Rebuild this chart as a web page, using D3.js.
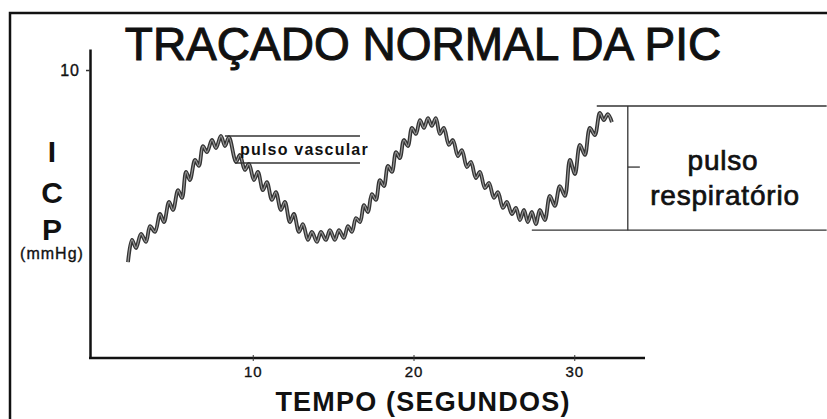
<!DOCTYPE html>
<html>
<head>
<meta charset="utf-8">
<script src="https://cdn.jsdelivr.net/npm/d3@7"></script>
<style>
  body { margin: 0; background: #fff; }
  svg { display: block; font-family: "Liberation Sans", Arial, sans-serif; }
</style>
</head>
<body>
<div id="chart"></div>
<script>
const tempo = [
  2.24, 2.49, 2.74, 3.05, 3.36, 3.61, 3.92, 4.23, 4.48, 4.79, 5.04, 5.35, 5.60, 5.85, 6.09, 6.41, 6.65, 6.90, 7.15, 7.46,
  7.71, 8.02, 8.27, 8.52, 8.96, 9.20, 9.51, 9.76, 10.07, 10.32, 10.63, 10.88, 11.19, 11.44, 11.75, 12.00, 12.31, 12.56, 12.87, 13.12,
  13.43, 13.68, 13.99, 14.24, 14.55, 14.80, 15.11, 15.36, 15.67, 15.92, 16.17, 16.42, 16.67, 16.92, 17.16, 17.41, 17.66, 17.91, 18.16, 18.41,
  18.66, 18.91, 19.15, 19.40, 19.65, 19.90, 20.15, 20.40, 20.65, 20.90, 21.14, 21.39, 21.64, 21.89, 22.20, 22.45, 22.76, 23.01, 23.32, 23.57,
  23.88, 24.13, 24.44, 24.69, 25.00, 25.25, 25.56, 25.81, 26.12, 26.37, 26.62, 26.87, 27.11, 27.36, 27.61, 27.86, 28.17, 28.48, 28.79, 29.10,
  29.42, 29.73, 30.04, 30.35, 30.66, 30.97, 31.28, 31.59, 31.84, 32.09, 32.34
];
const pic = [
  3.33, 4.10, 3.82, 4.31, 4.03, 4.58, 4.38, 5.00, 4.72, 5.42, 5.14, 5.83, 5.56, 6.46, 6.18, 6.88, 6.67, 7.36, 7.15, 7.57,
  7.29, 7.71, 7.36, 7.67, 6.81, 7.05, 6.53, 6.74, 6.18, 6.46, 5.83, 6.11, 5.49, 5.76, 5.14, 5.42, 4.72, 5.00, 4.38, 4.65,
  4.10, 4.38, 4.03, 4.38, 4.10, 4.44, 4.10, 4.44, 4.17, 4.58, 4.38, 4.86, 4.72, 5.31, 5.07, 5.69, 5.49, 6.18, 5.97, 6.67,
  6.46, 7.15, 6.94, 7.57, 7.36, 7.99, 7.78, 8.26, 7.99, 8.33, 8.06, 8.33, 7.78, 7.99, 7.40, 7.57, 7.01, 7.22, 6.63, 6.81,
  6.25, 6.46, 5.90, 6.08, 5.56, 5.76, 5.21, 5.42, 5.00, 5.21, 4.79, 5.14, 4.72, 5.07, 4.65, 5.14, 4.79, 5.63, 5.28, 5.97,
  5.63, 6.88, 6.39, 7.40, 7.05, 7.99, 7.74, 8.51, 8.26, 8.47, 8.19
];
const xTicks = [10, 20, 30];
const yTicks = [10];

// marcações dos pulsos (s, mmHg)
const vascular = { t0: 8.27, t0b: 8.89, t1: 16.67, top: 7.71, bottom: 6.77 };
const respiratorio = { tTop: 31.4, tBottom: 27.36, tEnd: 45.7, tBar: 33.33, tTick: 34.08, top: 8.75, bottom: 4.44, mid: 6.63 };

const width = 827, height = 419;

const svg = d3.select("#chart").append("svg")
  .attr("width", width)
  .attr("height", height);

svg.append("rect").attr("width", width).attr("height", height).attr("fill", "#fff");

// moldura
svg.append("path")
  .attr("d", "M10,419V13H827")
  .attr("fill", "none")
  .attr("stroke", "#111")
  .attr("stroke-width", 2.5);

const x = d3.scaleLinear().domain([0, 34.4]).range([92, 645]);
const y = d3.scaleLinear().domain([0, 10.73]).range([358, 49]);

// eixos
const xAxis = svg.append("g")
  .attr("transform", `translate(0,${y(0)})`)
  .call(d3.axisBottom(x).tickValues(xTicks).tickSize(3).tickPadding(5).tickSizeOuter(0));
xAxis.select(".domain").attr("stroke", "#111").attr("stroke-width", 2.5).attr("d", `M89,0H${x.range()[1]}`);
xAxis.selectAll(".tick line").attr("y1", -3).attr("stroke", "#333");
xAxis.selectAll(".tick text").attr("font-size", 15).attr("font-family", null).attr("fill", "#111")
  .attr("letter-spacing", 1).attr("stroke", "#111").attr("stroke-width", 0.35);

const yAxis = svg.append("g")
  .attr("transform", `translate(90,0)`)
  .call(d3.axisLeft(y).tickValues(yTicks).tickSize(4).tickPadding(6).tickSizeOuter(0));
yAxis.select(".domain").attr("stroke", "#111").attr("stroke-width", 2.5);
yAxis.selectAll(".tick line").attr("stroke", "#333").attr("stroke-width", 1.5);
yAxis.selectAll(".tick text").attr("font-size", 16).attr("font-family", null).attr("fill", "#111")
  .attr("letter-spacing", 1).attr("stroke", "#111").attr("stroke-width", 0.35);

// traçado
const pts = tempo.map((t, i) => [t, pic[i]]);
const line = d3.line()
  .x(d => x(d[0]))
  .y(d => y(d[1]))
  .curve(d3.curveCatmullRom.alpha(0.5));

svg.append("path")
  .datum(pts)
  .attr("d", line)
  .attr("fill", "none")
  .attr("stroke", "#333")
  .attr("stroke-width", 3.8)
  .attr("stroke-linejoin", "round");
svg.append("path")
  .datum(pts)
  .attr("d", line)
  .attr("fill", "none")
  .attr("stroke", "#9a9a9a")
  .attr("stroke-width", 1.2)
  .attr("stroke-linejoin", "round");

// pulso vascular
svg.append("line")
  .attr("x1", x(vascular.t0)).attr("x2", x(vascular.t1))
  .attr("y1", y(vascular.top)).attr("y2", y(vascular.top))
  .attr("stroke", "#333").attr("stroke-width", 1.6);
svg.append("line")
  .attr("x1", x(vascular.t0b)).attr("x2", x(vascular.t1))
  .attr("y1", y(vascular.bottom)).attr("y2", y(vascular.bottom))
  .attr("stroke", "#333").attr("stroke-width", 1.6);
svg.append("text")
  .attr("x", 240).attr("y", 155)
  .attr("font-size", 16).attr("font-weight", "bold").attr("letter-spacing", 1.2)
  .attr("fill", "#111")
  .text("pulso vascular");

// pulso respiratório
const resp = svg.append("g").attr("stroke", "#333").attr("stroke-width", 1.3);
resp.append("line")
  .attr("x1", x(respiratorio.tTop)).attr("x2", x(respiratorio.tEnd))
  .attr("y1", y(respiratorio.top)).attr("y2", y(respiratorio.top));
resp.append("line")
  .attr("x1", x(respiratorio.tBottom)).attr("x2", x(respiratorio.tEnd))
  .attr("y1", y(respiratorio.bottom)).attr("y2", y(respiratorio.bottom));
resp.append("line")
  .attr("x1", x(respiratorio.tBar)).attr("x2", x(respiratorio.tBar))
  .attr("y1", y(respiratorio.top)).attr("y2", y(respiratorio.bottom));
resp.append("line")
  .attr("x1", x(respiratorio.tBar)).attr("x2", x(respiratorio.tTick))
  .attr("y1", y(respiratorio.mid)).attr("y2", y(respiratorio.mid));

svg.append("text")
  .attr("x", 723).attr("y", 170)
  .attr("text-anchor", "middle")
  .attr("font-size", 28).attr("letter-spacing", 0.8).attr("fill", "#111")
  .attr("stroke", "#111").attr("stroke-width", 0.7)
  .text("pulso");
svg.append("text")
  .attr("x", 725).attr("y", 205)
  .attr("text-anchor", "middle")
  .attr("font-size", 28).attr("letter-spacing", 0.8).attr("fill", "#111")
  .attr("stroke", "#111").attr("stroke-width", 0.7)
  .text("respiratório");

// título
svg.append("text")
  .attr("x", 423).attr("y", 60)
  .attr("text-anchor", "middle")
  .attr("font-size", 46).attr("fill", "#111")
  .attr("stroke", "#111").attr("stroke-width", 1)
  .text("TRAÇADO NORMAL DA PIC");

// rótulos dos eixos
svg.append("text")
  .attr("x", 423).attr("y", 411)
  .attr("text-anchor", "middle")
  .attr("font-size", 27).attr("font-weight", "bold").attr("letter-spacing", 1.2).attr("fill", "#111")
  .text("TEMPO (SEGUNDOS)");

[["I", 162], ["C", 203], ["P", 240]].forEach(([s, yy]) => {
  svg.append("text")
    .attr("x", 52).attr("y", yy)
    .attr("text-anchor", "middle")
    .attr("font-size", 30).attr("font-weight", "bold").attr("fill", "#111")
    .text(s);
});
svg.append("text")
  .attr("x", 52).attr("y", 259)
  .attr("text-anchor", "middle")
  .attr("font-size", 16).attr("letter-spacing", 1).attr("fill", "#111")
  .attr("stroke", "#111").attr("stroke-width", 0.35)
  .text("(mmHg)");
</script>
</body>
</html>
